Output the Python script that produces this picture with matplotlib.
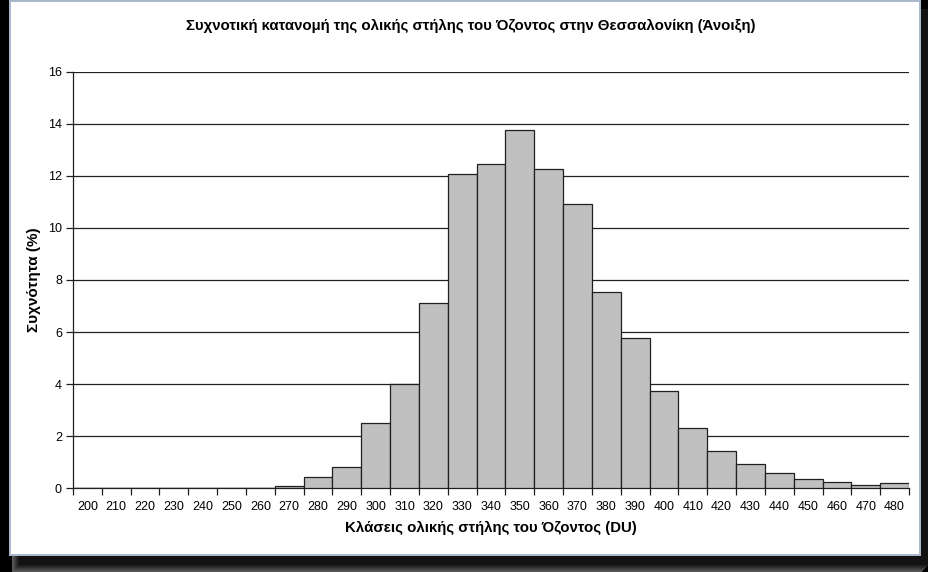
import matplotlib
matplotlib.use("Agg")
import matplotlib.pyplot as plt
from matplotlib.patches import Rectangle
import numpy as np

plt.rcParams['font.family'] = ['Liberation Sans', 'DejaVu Sans']

classes = [200, 210, 220, 230, 240, 250, 260, 270, 280, 290, 300, 310, 320, 330, 340,
           350, 360, 370, 380, 390, 400, 410, 420, 430, 440, 450, 460, 470, 480]
freq = [0, 0, 0, 0, 0, 0, 0, 0.09, 0.43, 0.81, 2.50, 3.99, 7.13, 12.08, 12.45,
        13.75, 12.25, 10.90, 7.53, 5.76, 3.72, 2.32, 1.44, 0.94, 0.60, 0.35, 0.24, 0.14, 0.19]
yticks = [0, 2, 4, 6, 8, 10, 12, 14, 16]

title = "Συχνοτική κατανομή της ολικής στήλης του Όζοντος στην Θεσσαλονίκη (Άνοιξη)"
xlabel = "Κλάσεις ολικής στήλης του Όζοντος (DU)"
ylabel = "Συχνότητα (%)"

W, H = 929, 572
fig = plt.figure(figsize=(W / 100, H / 100), dpi=100)
fig.patch.set_facecolor('black')

# shadow gradient and white panel
for i in range(8):
    fig.patches.append(Rectangle(((12 + i) / W, (0 + i) / H), 910 / W, 556 / H,
                                 transform=fig.transFigure, facecolor=(0.35 - i * 0.04,) * 3,
                                 edgecolor='none', zorder=-3 + i * 0.01))
fig.patches.append(Rectangle((9 / W, 16 / H), 912 / W, 556 / H, transform=fig.transFigure,
                             facecolor='#a9b8cc', edgecolor='none', zorder=-2))
fig.patches.append(Rectangle((11 / W, 18 / H), 908 / W, 552 / H, transform=fig.transFigure,
                             facecolor='white', edgecolor='none', zorder=-1))

ax = fig.add_axes([73 / W, 1 - 488.3 / H, (909 - 73) / W, (488.3 - 71.7) / H])
ax.set_facecolor('none')
x = np.arange(len(classes))
ax.bar(x, freq, width=1.0, color='#c0c0c0', edgecolor='#202020', linewidth=0.9, zorder=3)

ax.set_xlim(-0.5, len(classes) - 0.5)
ax.set_ylim(0, 16)
ax.set_yticks(yticks)
ax.set_yticklabels([str(v) for v in yticks], fontsize=9)
ax.yaxis.grid(True, color='#202020', linewidth=0.9, zorder=0)
ax.set_axisbelow(True)

ax.set_xticks(x)
ax.set_xticklabels([str(c) for c in classes], fontsize=9)
ax.set_xticks(np.arange(-0.5, len(classes), 1.0), minor=True)
ax.tick_params(axis='x', which='major', length=0, pad=9)
ax.tick_params(axis='x', which='minor', length=5, width=0.9, color='#202020', direction='out')
ax.tick_params(axis='y', length=5, width=0.9, color='#202020', pad=3)

for s in ['top', 'right']:
    ax.spines[s].set_visible(False)
for s in ['left', 'bottom']:
    ax.spines[s].set_color('#202020')
    ax.spines[s].set_linewidth(0.9)

ax.set_xlabel(xlabel, fontsize=10.8, fontweight='bold', labelpad=6)
ax.set_ylabel(ylabel, fontsize=11, fontweight='bold', labelpad=5)
fig.text(471 / W, 1 - 26 / H, title, fontsize=10.8, fontweight='bold', ha='center', va='center')

fig.savefig('out.png', dpi=100, facecolor=fig.get_facecolor())
